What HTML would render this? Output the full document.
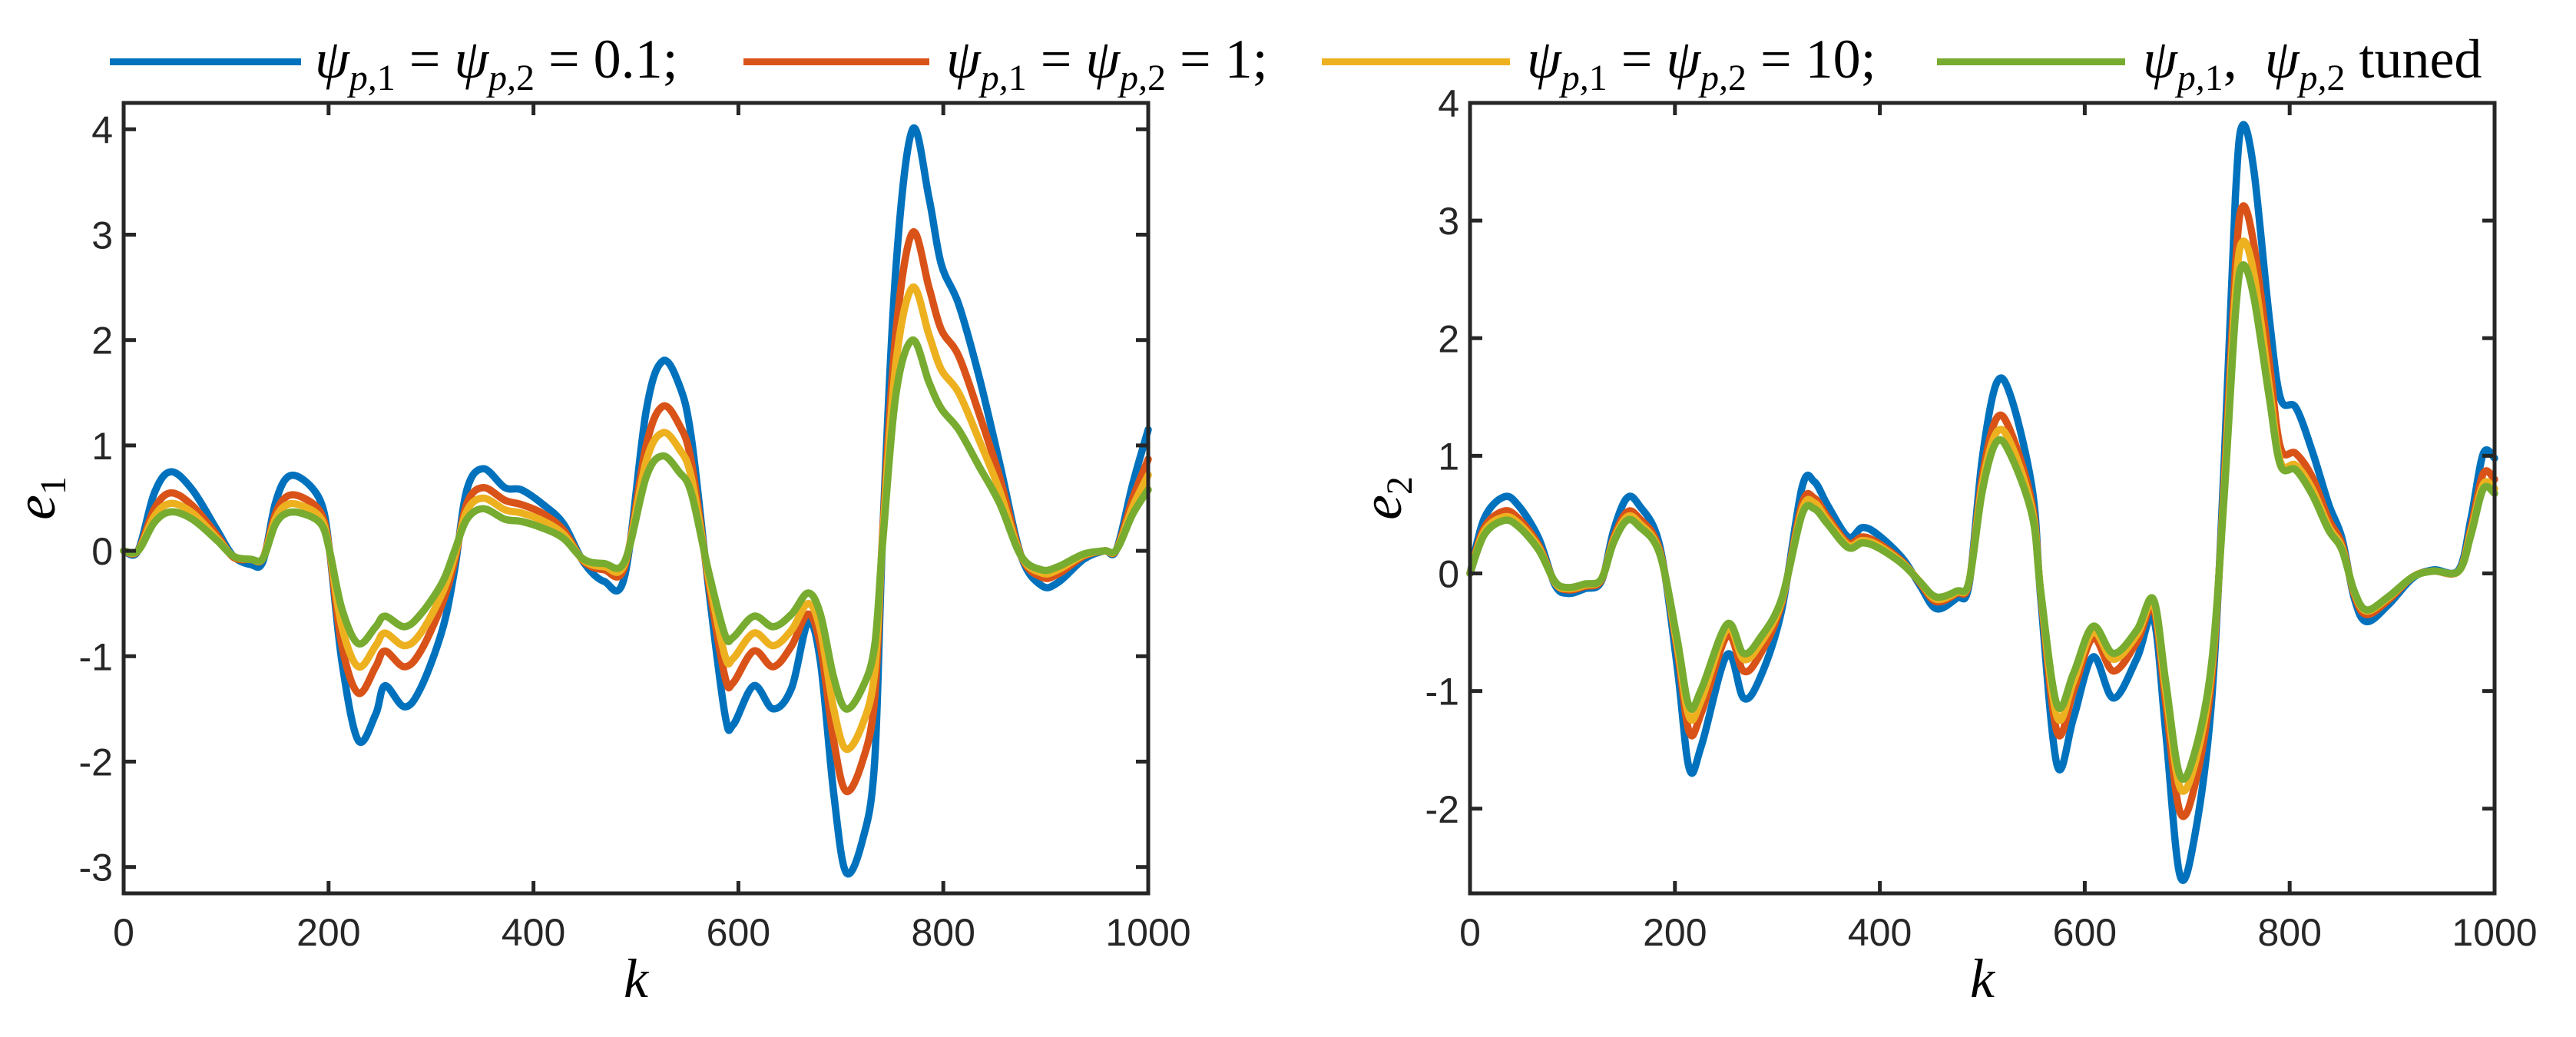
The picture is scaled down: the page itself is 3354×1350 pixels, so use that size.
<!DOCTYPE html>
<html><head><meta charset="utf-8"><style>
html,body{margin:0;padding:0;background:#fff;}
#wrap{position:relative;width:3354px;height:1350px;overflow:hidden;}
svg{position:absolute;left:0;top:0;}
.leg{position:absolute;top:34px;font-family:"Liberation Serif",serif;font-size:72px;color:#000;white-space:nowrap;line-height:86px;}
.leg i{font-style:italic;}
.leg sub{font-size:48px;vertical-align:-16px;font-style:italic;}
.leg .eq{margin:0 18px;}
.sw{position:absolute;top:76px;height:9px;}
</style></head><body>
<div id="wrap">
<svg id="chart" width="3354" height="1350"></svg>
<div class="sw" style="left:143px;width:249px;background:#0072BD"></div>
<div class="leg" style="left:410px"><i>ψ</i><sub>p,</sub><sub style="font-style:normal">1</sub><span class="eq">=</span><i>ψ</i><sub>p,</sub><sub style="font-style:normal">2</sub><span class="eq">=</span>0.1;</div>
<div class="sw" style="left:968px;width:242px;background:#D95319"></div>
<div class="leg" style="left:1232px"><i>ψ</i><sub>p,</sub><sub style="font-style:normal">1</sub><span class="eq">=</span><i>ψ</i><sub>p,</sub><sub style="font-style:normal">2</sub><span class="eq">=</span>1;</div>
<div class="sw" style="left:1721px;width:245px;background:#EDB120"></div>
<div class="leg" style="left:1988px"><i>ψ</i><sub>p,</sub><sub style="font-style:normal">1</sub><span class="eq">=</span><i>ψ</i><sub>p,</sub><sub style="font-style:normal">2</sub><span class="eq">=</span>10;</div>
<div class="sw" style="left:2522px;width:245px;background:#77AC30"></div>
<div class="leg" style="left:2790px"><i>ψ</i><sub>p,</sub><sub style="font-style:normal">1</sub>,&nbsp;&nbsp;<i>ψ</i><sub>p,</sub><sub style="font-style:normal">2</sub>&nbsp;tuned</div>
</div>
<script>
const K1=[0,14,30,46,67,91,107,124,136,148,160,176,193,201,213,229,246,255,274,290,311,323,335,351,372,388,408,429,449,469,489,510,526,542,554,571,587,595,615,634,652,668,680,693,705,721,733,741,754,770,786,798,815,835,855,876,896,912,937,957,969,985,1000];
const blue1=[0,0,0.55,0.75,0.58,0.2,-0.05,-0.13,-0.1,0.45,0.7,0.67,0.45,0,-1.05,-1.8,-1.55,-1.28,-1.48,-1.3,-0.75,-0.18,0.58,0.78,0.6,0.58,0.45,0.26,-0.11,-0.29,-0.24,1.33,1.8,1.58,1.08,-0.36,-1.56,-1.65,-1.28,-1.5,-1.3,-0.68,-1.05,-2.3,-3.05,-2.75,-2.0,0.2,2.72,4.0,3.35,2.72,2.34,1.65,0.83,-0.05,-0.33,-0.3,-0.08,0,0.01,0.64,1.15];
const orange1=[0,0,0.4,0.55,0.43,0.15,-0.06,-0.08,-0.07,0.35,0.52,0.5,0.35,0,-0.9,-1.35,-1.1,-0.95,-1.1,-0.95,-0.5,-0.1,0.45,0.6,0.48,0.44,0.36,0.2,-0.1,-0.18,-0.15,1.0,1.37,1.2,0.85,-0.3,-1.2,-1.25,-0.95,-1.1,-0.9,-0.6,-0.9,-1.8,-2.28,-2.0,-1.4,0.2,2.1,3.02,2.5,2.1,1.85,1.3,0.7,-0.05,-0.25,-0.22,-0.05,0,0.01,0.5,0.87];
const yellow1=[0,0,0.33,0.45,0.36,0.12,-0.05,-0.08,-0.07,0.3,0.44,0.42,0.3,0,-0.72,-1.1,-0.9,-0.78,-0.9,-0.78,-0.4,-0.05,0.38,0.5,0.39,0.36,0.29,0.16,-0.09,-0.15,-0.12,0.85,1.12,0.97,0.7,-0.25,-1.0,-1.02,-0.78,-0.9,-0.75,-0.5,-0.75,-1.5,-1.88,-1.65,-1.15,0.15,1.8,2.5,2.05,1.72,1.5,1.05,0.57,-0.05,-0.21,-0.18,-0.04,0,0.01,0.42,0.72];
const green1=[0,0,0.27,0.37,0.3,0.1,-0.05,-0.08,-0.07,0.25,0.36,0.35,0.25,0,-0.55,-0.88,-0.72,-0.62,-0.72,-0.6,-0.3,0,0.3,0.4,0.3,0.28,0.22,0.12,-0.08,-0.12,-0.1,0.7,0.9,0.75,0.55,-0.2,-0.8,-0.82,-0.62,-0.72,-0.6,-0.4,-0.6,-1.2,-1.5,-1.3,-0.9,0.1,1.5,2.0,1.6,1.35,1.15,0.8,0.45,-0.05,-0.18,-0.15,-0.03,0,0.01,0.35,0.58];
const K2=[0,14,33,47,67,83,96,112,128,140,153,165,185,202,214,226,251,267,283,304,324,336,349,369,383,398,422,439,455,475,487,500,514,528,549,557,573,589,608,628,651,667,679,693,708,724,736,747,754,765,780,791,806,822,838,851,863,875,896,920,940,965,977,989,1000];
const blue2=[0,0.47,0.65,0.58,0.3,-0.1,-0.17,-0.13,-0.07,0.36,0.64,0.58,0.24,-0.78,-1.66,-1.46,-0.69,-1.06,-0.89,-0.32,0.73,0.78,0.58,0.31,0.39,0.33,0.13,-0.1,-0.3,-0.21,-0.1,0.98,1.62,1.5,0.7,-0.21,-1.63,-1.23,-0.71,-1.06,-0.72,-0.38,-1.35,-2.57,-2.2,-1.06,0.93,3.2,3.81,3.43,2.18,1.49,1.41,1.04,0.59,0.3,-0.21,-0.41,-0.27,-0.04,0.03,0.03,0.47,1.02,0.98];
const orange2=[0,0.39,0.53,0.47,0.24,-0.08,-0.14,-0.11,-0.06,0.3,0.52,0.47,0.2,-0.64,-1.35,-1.18,-0.53,-0.83,-0.69,-0.26,0.59,0.64,0.48,0.26,0.31,0.26,0.1,-0.08,-0.24,-0.17,-0.08,0.82,1.32,1.2,0.57,-0.17,-1.35,-1.0,-0.55,-0.83,-0.58,-0.3,-1.1,-2.03,-1.78,-0.88,0.76,2.6,3.12,2.8,1.8,1.07,1.02,0.82,0.46,0.25,-0.18,-0.35,-0.23,-0.03,0.02,0.02,0.39,0.85,0.8];
const yellow2=[0,0.36,0.48,0.43,0.22,-0.08,-0.13,-0.1,-0.05,0.28,0.48,0.43,0.18,-0.6,-1.22,-1.07,-0.47,-0.73,-0.6,-0.24,0.54,0.6,0.45,0.24,0.28,0.24,0.09,-0.07,-0.22,-0.16,-0.07,0.76,1.2,1.1,0.52,-0.16,-1.22,-0.92,-0.5,-0.73,-0.52,-0.26,-1.0,-1.82,-1.6,-0.8,0.7,2.38,2.82,2.55,1.6,0.95,0.92,0.72,0.4,0.22,-0.16,-0.32,-0.21,-0.03,0.02,0.02,0.36,0.76,0.72];
const green2=[0,0.33,0.45,0.4,0.2,-0.07,-0.12,-0.09,-0.05,0.26,0.45,0.4,0.17,-0.55,-1.13,-0.98,-0.43,-0.68,-0.55,-0.22,0.5,0.55,0.42,0.22,0.26,0.22,0.08,-0.07,-0.2,-0.15,-0.07,0.7,1.12,1.0,0.48,-0.15,-1.12,-0.85,-0.45,-0.68,-0.48,-0.22,-0.92,-1.72,-1.5,-0.75,0.65,2.2,2.62,2.35,1.5,0.92,0.88,0.67,0.37,0.2,-0.15,-0.31,-0.2,-0.03,0.02,0.02,0.33,0.72,0.68];
const xTicks=[0,200,400,600,800,1000];
const yTicks1=[-3,-2,-1,0,1,2,3,4];
const yTicks2=[-2,-1,0,1,2,3,4];
const colors=['#0072BD','#D95319','#EDB120','#77AC30'];
const names=['psi-0-1','psi-1','psi-10','psi-tuned'];

const NS='http://www.w3.org/2000/svg';
const svg=document.getElementById('chart');
function mk(tag,attrs,parent){const e=document.createElementNS(NS,tag);for(const k in attrs)e.setAttribute(k,attrs[k]);(parent||svg).appendChild(e);return e;}

function panel(id,box,ymin,ymax,K,series,yTicks,ylab){
  const g=mk('g',{});
  
  
  const X=v=>box.l+(v-0)/(1000)*(box.r-box.l);
  const Y=v=>box.b-(v-ymin)/(ymax-ymin)*(box.b-box.t);
  series.forEach((s,si)=>{
    const pts=K.map((k,i)=>[X(k),Y(s[i])]);
    let d='M'+pts[0][0]+','+pts[0][1];
    for(let i=0;i<pts.length-1;i++){
      const p0=pts[Math.max(0,i-1)],p1=pts[i],p2=pts[i+1],p3=pts[Math.min(pts.length-1,i+2)];
      const c1=[p1[0]+(p2[0]-p0[0])/6,p1[1]+(p2[1]-p0[1])/6];
      const c2=[p2[0]-(p3[0]-p1[0])/6,p2[1]-(p3[1]-p1[1])/6];
      d+=`C${c1[0]},${c1[1]} ${c2[0]},${c2[1]} ${p2[0]},${p2[1]}`;
    }
    const p=mk('path',{d:d,fill:'none',stroke:colors[si],'stroke-width':9.5,'stroke-linejoin':'round','stroke-linecap':'round'},g);
    
    
  });
  xTicks.forEach(t=>{
    const x=X(t);
    mk('line',{x1:x,x2:x,y1:box.b,y2:box.b-16,stroke:'#262626','stroke-width':5},g);
    mk('line',{x1:x,x2:x,y1:box.t,y2:box.t+16,stroke:'#262626','stroke-width':5},g);
    const tx=mk('text',{x:x,y:box.b+68,'text-anchor':'middle','font-family':'Liberation Sans, sans-serif','font-size':50,fill:'#262626'},g);
    tx.textContent=t;
    
    
  });
  yTicks.forEach(t=>{
    const y=Y(t);
    mk('line',{x1:box.l,x2:box.l+16,y1:y,y2:y,stroke:'#262626','stroke-width':5},g);
    mk('line',{x1:box.r,x2:box.r-16,y1:y,y2:y,stroke:'#262626','stroke-width':5},g);
    const tx=mk('text',{x:box.l-14,y:y+18,'text-anchor':'end','font-family':'Liberation Sans, sans-serif','font-size':50,fill:'#262626'},g);
    tx.textContent=t;
    
    
  });
  const r=mk('rect',{x:box.l,y:box.t,width:box.r-box.l,height:box.b-box.t,fill:'none',stroke:'#262626','stroke-width':5},g);
  
  
  const xl=mk('text',{x:(box.l+box.r)/2,y:box.b+135,'text-anchor':'middle','font-family':'Liberation Serif, serif','font-style':'italic','font-size':72,fill:'#000'},g);
  xl.textContent='k';
  
  
  const yl=mk('text',{transform:`translate(${box.l-90},${(box.t+box.b)/2}) rotate(-90)`,'text-anchor':'middle','font-family':'Liberation Serif, serif','font-style':'italic','font-size':74,fill:'#000'},g);
  yl.innerHTML='e<tspan font-style="normal" font-size="48" dy="14">'+ylab+'</tspan>';
  
  
}
panel('e1',{l:161,r:1495,t:134,b:1163},-3.25,4.25,K1,[blue1,orange1,yellow1,green1],yTicks1,'1');
panel('e2',{l:1914,r:3248,t:134,b:1163},-2.72,4,K2,[blue2,orange2,yellow2,green2],yTicks2,'2');
</script>
</body></html>
